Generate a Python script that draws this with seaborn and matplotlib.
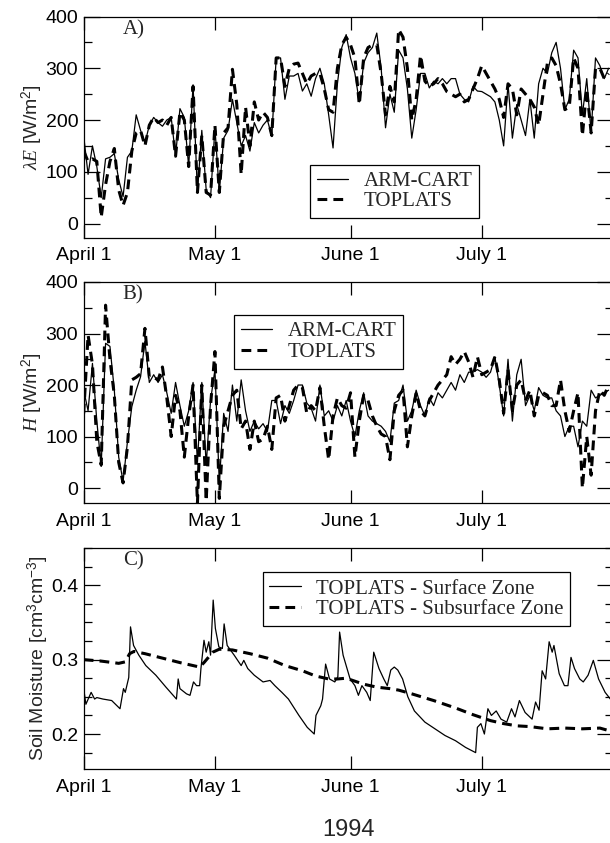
import numpy as np
import matplotlib
matplotlib.use("Agg")
import matplotlib.pyplot as plt
from matplotlib.ticker import MultipleLocator
import seaborn as sns

# day offsets from 1994-04-01
month_ticks = [0, 30, 61, 91]
month_labels = ["April 1", "May 1", "June 1", "July 1"]
days = np.arange(121)

# A) latent heat flux [W/m2]
arm_le = [169, 95, 150, 110, 50, 125, 128, 135, 85, 52,
          128, 140, 210, 180, 155, 190, 205, 195, 188, 200,
          205, 130, 222, 205, 110, 268, 60, 180, 65, 50,
          185, 60, 165, 180, 240, 195, 150, 170, 140, 195,
          175, 190, 200, 168, 320, 320, 240, 285, 285, 290,
          256, 270, 246, 280, 300, 270, 210, 146, 270, 340,
          365, 320, 290, 235, 310, 330, 340, 368, 300, 185,
          250, 215, 335, 320, 260, 165, 220, 290, 290, 262,
          275, 270, 280, 270, 280, 280, 250, 240, 235, 265,
          256, 255, 250, 245, 235, 200, 150, 270, 165, 230,
          200, 170, 240, 165, 270, 300, 290, 330, 350, 300,
          220, 240, 335, 320, 210, 280, 175, 320, 305, 280, 300]
top_le = [140, 120, 125, 120, 12, 75, 120, 145, 65, 35,
          60, 140, 175, 180, 150, 190, 205, 195, 200, 190,
          205, 130, 215, 200, 110, 265, 60, 170, 60, 55,
          190, 60, 175, 185, 298, 230, 95, 225, 150, 235,
          200, 215, 205, 170, 320, 320, 265, 300, 308, 310,
          290, 270, 285, 290, 290, 260, 220, 215, 300, 345,
          360, 345, 320, 230, 320, 340, 345, 345, 290, 210,
          265, 235, 375, 360, 300, 200, 240, 325, 275, 265,
          270, 280, 270, 255, 250, 245, 250, 235, 240, 260,
          280, 305, 290, 275, 260, 240, 205, 270, 260, 210,
          260, 250, 240, 225, 190, 250, 310, 320, 305, 270,
          220, 225, 320, 300, 170, 260, 175, 300, 300, 280, 290]

# B) sensible heat flux [W/m2]
arm_h = [190, 150, 242, 130, 42, 281, 275, 190, 60, 13,
         90, 158, 190, 216, 285, 205, 220, 205, 220, 185,
         145, 205, 160, 120, 150, 205, 50, 205, 45, 170,
         230, 10, 145, 110, 200, 130, 210, 150, 110, 130,
         115, 125, 110, 170, 170, 125, 160, 145, 170, 200,
         200, 165, 155, 130, 200, 140, 150, 130, 160, 140,
         170, 130, 100, 150, 185, 140, 130, 125, 120, 110,
         90, 165, 170, 200, 130, 150, 190, 160, 140, 175,
         160, 185, 175, 190, 205, 190, 220, 205, 225, 225,
         230, 225, 215, 225, 255, 200, 140, 250, 130, 220,
         250, 160, 180, 150, 195, 180, 175, 175, 150, 140,
         100, 120, 120, 80, 130, 120, 190, 175, 180, 185, 190]
top_h = [145, 297, 240, 90, 45, 355, 250, 180, 50, 10,
         80, 210, 215, 222, 310, 215, 215, 210, 235, 175,
         100, 180, 150, 60, 140, 200, -30, 200, -25, 160,
         265, -20, 120, 150, 180, 190, 115, 130, 75, 130,
         90, 95, 120, 75, 175, 180, 130, 160, 190, 200,
         195, 145, 160, 150, 195, 120, 55, 140, 175, 160,
         155, 185, 60, 130, 180, 170, 140, 120, 105, 100,
         55, 150, 180, 190, 80, 140, 185, 150, 140, 170,
         185, 200, 210, 220, 255, 240, 250, 265, 245, 215,
         255, 220, 225, 230, 255, 210, 145, 230, 150, 200,
         210, 170, 190, 140, 180, 185, 180, 160, 160, 210,
         150, 110, 150, 185, 0, 100, 25, 150, 190, 180, 200]

# C) soil moisture [cm3/cm3]
surface_day = [0, 0.5, 1.7, 2.5, 3, 4.4, 6.4, 8.3, 9.1, 9.5,
               10.3, 10.7, 11.4, 12.6, 14.2, 16.5, 18.8, 21.2, 21.6, 22,
               23.5, 24.3, 25.1, 25.8, 26.5, 26.8, 27.5, 28.0, 28.6, 29.0,
               29.6, 30.1, 30.9, 31.7, 32.1, 32.8, 34.4, 36.0, 36.6, 37.5,
               39.0, 41.0, 42.6, 43.7, 45.3, 46.8, 49.2, 51.1, 52.7, 53.1,
               54.2, 54.6, 55.3, 56.2, 57.4, 58.1, 58.5, 59.3, 60.9, 62.0,
               62.8, 63.6, 64.7, 65.5, 66.3, 67.5, 68.6, 69.4, 70.2, 71.0,
               71.8, 72.9, 74.1, 75.6, 78.0, 80.3, 82.6, 85.0, 87.3, 89.6,
               90.0, 90.8, 91.6, 92.4, 93.2, 94.3, 95.4, 96.7, 97.8, 98.6,
               99.6, 100.9, 102.5, 103.3, 104.1, 104.8, 105.6, 106.4, 107.1, 107.5,
               108.7, 109.9, 110.7, 111.4, 112.2, 113.4, 114.2, 115.3, 116.5, 117.7,
               119.2, 120.4, 121]
surface_sm = [0.261, 0.240, 0.256, 0.247, 0.249, 0.247, 0.245, 0.234, 0.261, 0.256,
              0.276, 0.344, 0.319, 0.306, 0.292, 0.279, 0.263, 0.247, 0.274, 0.261,
              0.254, 0.252, 0.270, 0.265, 0.265, 0.288, 0.326, 0.310, 0.324, 0.306,
              0.380, 0.342, 0.317, 0.315, 0.348, 0.319, 0.306, 0.292, 0.299, 0.288,
              0.279, 0.270, 0.272, 0.265, 0.256, 0.247, 0.225, 0.209, 0.200, 0.225,
              0.238, 0.247, 0.294, 0.274, 0.270, 0.277, 0.337, 0.306, 0.274, 0.265,
              0.252, 0.265, 0.256, 0.245, 0.310, 0.288, 0.274, 0.265, 0.286, 0.290,
              0.286, 0.274, 0.250, 0.231, 0.216, 0.207, 0.198, 0.191, 0.182, 0.175,
              0.209, 0.214, 0.200, 0.234, 0.225, 0.231, 0.220, 0.216, 0.234, 0.223,
              0.245, 0.229, 0.220, 0.243, 0.232, 0.285, 0.274, 0.324, 0.310, 0.319,
              0.281, 0.265, 0.265, 0.303, 0.288, 0.274, 0.270, 0.279, 0.299, 0.274,
              0.256, 0.247, 0.245]
subsurf_day = [0, 4, 8, 9.5, 10.5, 11.5, 14, 18, 22, 25,
               26.5, 27.5, 28.5, 29.5, 31, 34, 38, 42, 46, 50,
               53, 56, 58, 60, 62, 64, 67, 70, 72, 75,
               80, 85, 89, 91, 93, 96, 99, 102, 106, 110,
               114, 118, 121]
subsurf_sm = [0.300, 0.298, 0.295, 0.297, 0.308, 0.311, 0.308, 0.302, 0.296, 0.292,
              0.290, 0.296, 0.303, 0.310, 0.314, 0.313, 0.308, 0.302, 0.292, 0.285,
              0.278, 0.274, 0.274, 0.275, 0.271, 0.267, 0.263, 0.261, 0.259, 0.254,
              0.245, 0.235, 0.226, 0.222, 0.218, 0.214, 0.211, 0.210, 0.207, 0.208,
              0.207, 0.208, 0.203]

sns.set_style("ticks")
plt.rcParams["font.family"] = ["Liberation Sans", "DejaVu Sans"]
plt.rcParams["mathtext.fontset"] = "custom"
plt.rcParams["mathtext.rm"] = "Liberation Sans"
plt.rcParams["mathtext.it"] = "Liberation Serif:italic"

W, H = 610, 843
fig = plt.figure(figsize=(W / 100, H / 100), dpi=100)

x0, x1 = 83.7, 613.0
panels_px = [(16.5, 237.5), (282.0, 503.0), (548.0, 769.0)]
axes = [fig.add_axes([x0 / W, 1 - bot / H, (x1 - x0) / W, (bot - top) / H])
        for top, bot in panels_px]

dash = (0, (3.2, 2.0))
serif = ["Liberation Serif", "DejaVu Serif"]


def style_axis(ax):
    for s in ax.spines.values():
        s.set_linewidth(0.9)
        s.set_color("black")
    ax.set_xlim(0, 121)
    ax.set_xticks(month_ticks)
    ax.set_xticklabels(month_labels)
    ax.tick_params(axis="both", which="both", direction="in", top=True, right=True,
                   width=0.9, color="black", labelsize=14, labelcolor="black")
    ax.tick_params(axis="x", which="major", length=9.5, pad=7)
    ax.tick_params(axis="y", which="major", length=11.5, pad=4)
    ax.tick_params(axis="y", which="minor", length=5.5)
    ax.set_xlabel("")


def line_pair(ax, x, y1, y2, lab1, lab2):
    sns.lineplot(x=x, y=y1, ax=ax, color="black", linewidth=0.9, label=lab1)
    sns.lineplot(x=x, y=y2, ax=ax, color="black", linewidth=2.2, linestyle=dash, label=lab2)


def box_legend(ax, anchor):
    leg = ax.legend(loc="upper left", bbox_to_anchor=anchor, borderaxespad=0,
                    frameon=True, fancybox=False, framealpha=1, edgecolor="black",
                    prop={"family": serif, "size": 15}, handlelength=1.5,
                    handletextpad=0.75, borderpad=0.32, labelspacing=0.05)
    leg.get_frame().set_linewidth(0.9)


# A
ax = axes[0]
line_pair(ax, days, arm_le, top_le, "ARM-CART", "TOPLATS")
style_axis(ax)
ax.set_ylim(-27, 400)
ax.yaxis.set_major_locator(MultipleLocator(100))
ax.yaxis.set_minor_locator(MultipleLocator(50))
ax.set_ylabel(r"$\lambda E$ [W/m$^2$]", fontsize=14, labelpad=0)
box_legend(ax, (0.4275, 0.33))
ax.text(0.074, 0.94, "A)", transform=ax.transAxes, family=serif, fontsize=15, va="center")

# B
ax = axes[1]
line_pair(ax, days, arm_h, top_h, "ARM-CART", "TOPLATS")
style_axis(ax)
ax.set_ylim(-29, 400)
ax.yaxis.set_major_locator(MultipleLocator(100))
ax.yaxis.set_minor_locator(MultipleLocator(50))
ax.set_ylabel(r"$H$ [W/m$^2$]", fontsize=14, labelpad=0)
box_legend(ax, (0.284, 0.85))
ax.text(0.074, 0.94, "B)", transform=ax.transAxes, family=serif, fontsize=15, va="center")

# C
ax = axes[2]
sns.lineplot(x=surface_day, y=surface_sm, ax=ax, color="black", linewidth=0.9,
             label="TOPLATS - Surface Zone")
sns.lineplot(x=subsurf_day, y=subsurf_sm, ax=ax, color="black", linewidth=2.2,
             linestyle=dash, label="TOPLATS - Subsurface Zone")
style_axis(ax)
ax.set_ylim(0.153, 0.45)
ax.yaxis.set_major_locator(MultipleLocator(0.1))
ax.yaxis.set_minor_locator(MultipleLocator(0.025))
ax.set_ylabel(r"Soil Moisture [cm$^3$cm$^{-3}$]", fontsize=14, labelpad=0)
box_legend(ax, (0.338, 0.89))
ax.text(0.074, 0.94, "C)", transform=ax.transAxes, family=serif, fontsize=15, va="center")

fig.text(348 / W, 1 - 830 / H, "1994", ha="center", va="center", fontsize=17)

fig.savefig("out.png", dpi=100)
